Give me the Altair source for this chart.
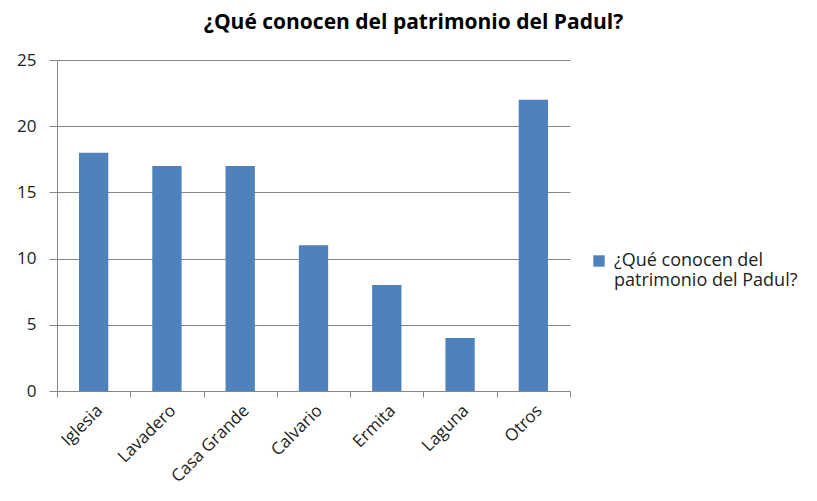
import altair as alt
import pandas as pd

categories = ["Iglesia", "Lavadero", "Casa Grande", "Calvario", "Ermita", "Laguna", "Otros"]
values = [18, 17, 17, 11, 8, 4, 22]
series_name = "¿Qué conocen del patrimonio del Padul?"
title_text = "¿Qué conocen del patrimonio del Padul?"

df = pd.DataFrame({"categoria": categories, "valor": values, "serie": series_name})

FONT = "Open Sans"

chart = alt.Chart(df).mark_bar(color="#4F81BD", width=alt.RelativeBandSize(0.4)).encode(
    x=alt.X("categoria:N", sort=categories, title=None,
            scale=alt.Scale(paddingInner=0, paddingOuter=0),
            axis=alt.Axis(labelAngle=-45, tickBand="extent", grid=False,
                          domainColor="#868686", tickColor="#868686", tickSize=6,
                          labelFont=FONT, labelFontSize=17, labelColor="#222222",
                          labelPadding=5)),
    y=alt.Y("valor:Q", title=None,
            scale=alt.Scale(domain=[0, 25]),
            axis=alt.Axis(values=[0, 5, 10, 15, 20, 25], gridColor="#868686",
                          domainColor="#868686", tickColor="#868686", tickSize=8,
                          labelFont=FONT, labelFontSize=17, labelColor="#222222",
                          labelPadding=13)),
    color=alt.Color("serie:N", scale=alt.Scale(range=["#4F81BD"]),
                    legend=alt.Legend(title=None, orient="none", legendX=533, legendY=192,
                                      symbolType="square", symbolSize=130,
                                      labelFont=FONT, labelFontSize=18, labelColor="#222222",
                                      labelLimit=0, labelOffset=6,
                                      labelExpr="['¿Qué conocen del', 'patrimonio del Padul?']")),
).properties(
    width=513,
    height=331,
    autosize=alt.AutoSizeParams(type="none"),
    padding={"left": 49, "top": 52, "right": 239, "bottom": 102},
    title=alt.TitleParams(title_text, font=FONT, fontSize=21, fontWeight="bold",
                          color="#000000", anchor="middle", dx=100, offset=18),
).configure_view(stroke=None)

chart.save("out.html", embed_options={"renderer": "svg", "actions": False})
